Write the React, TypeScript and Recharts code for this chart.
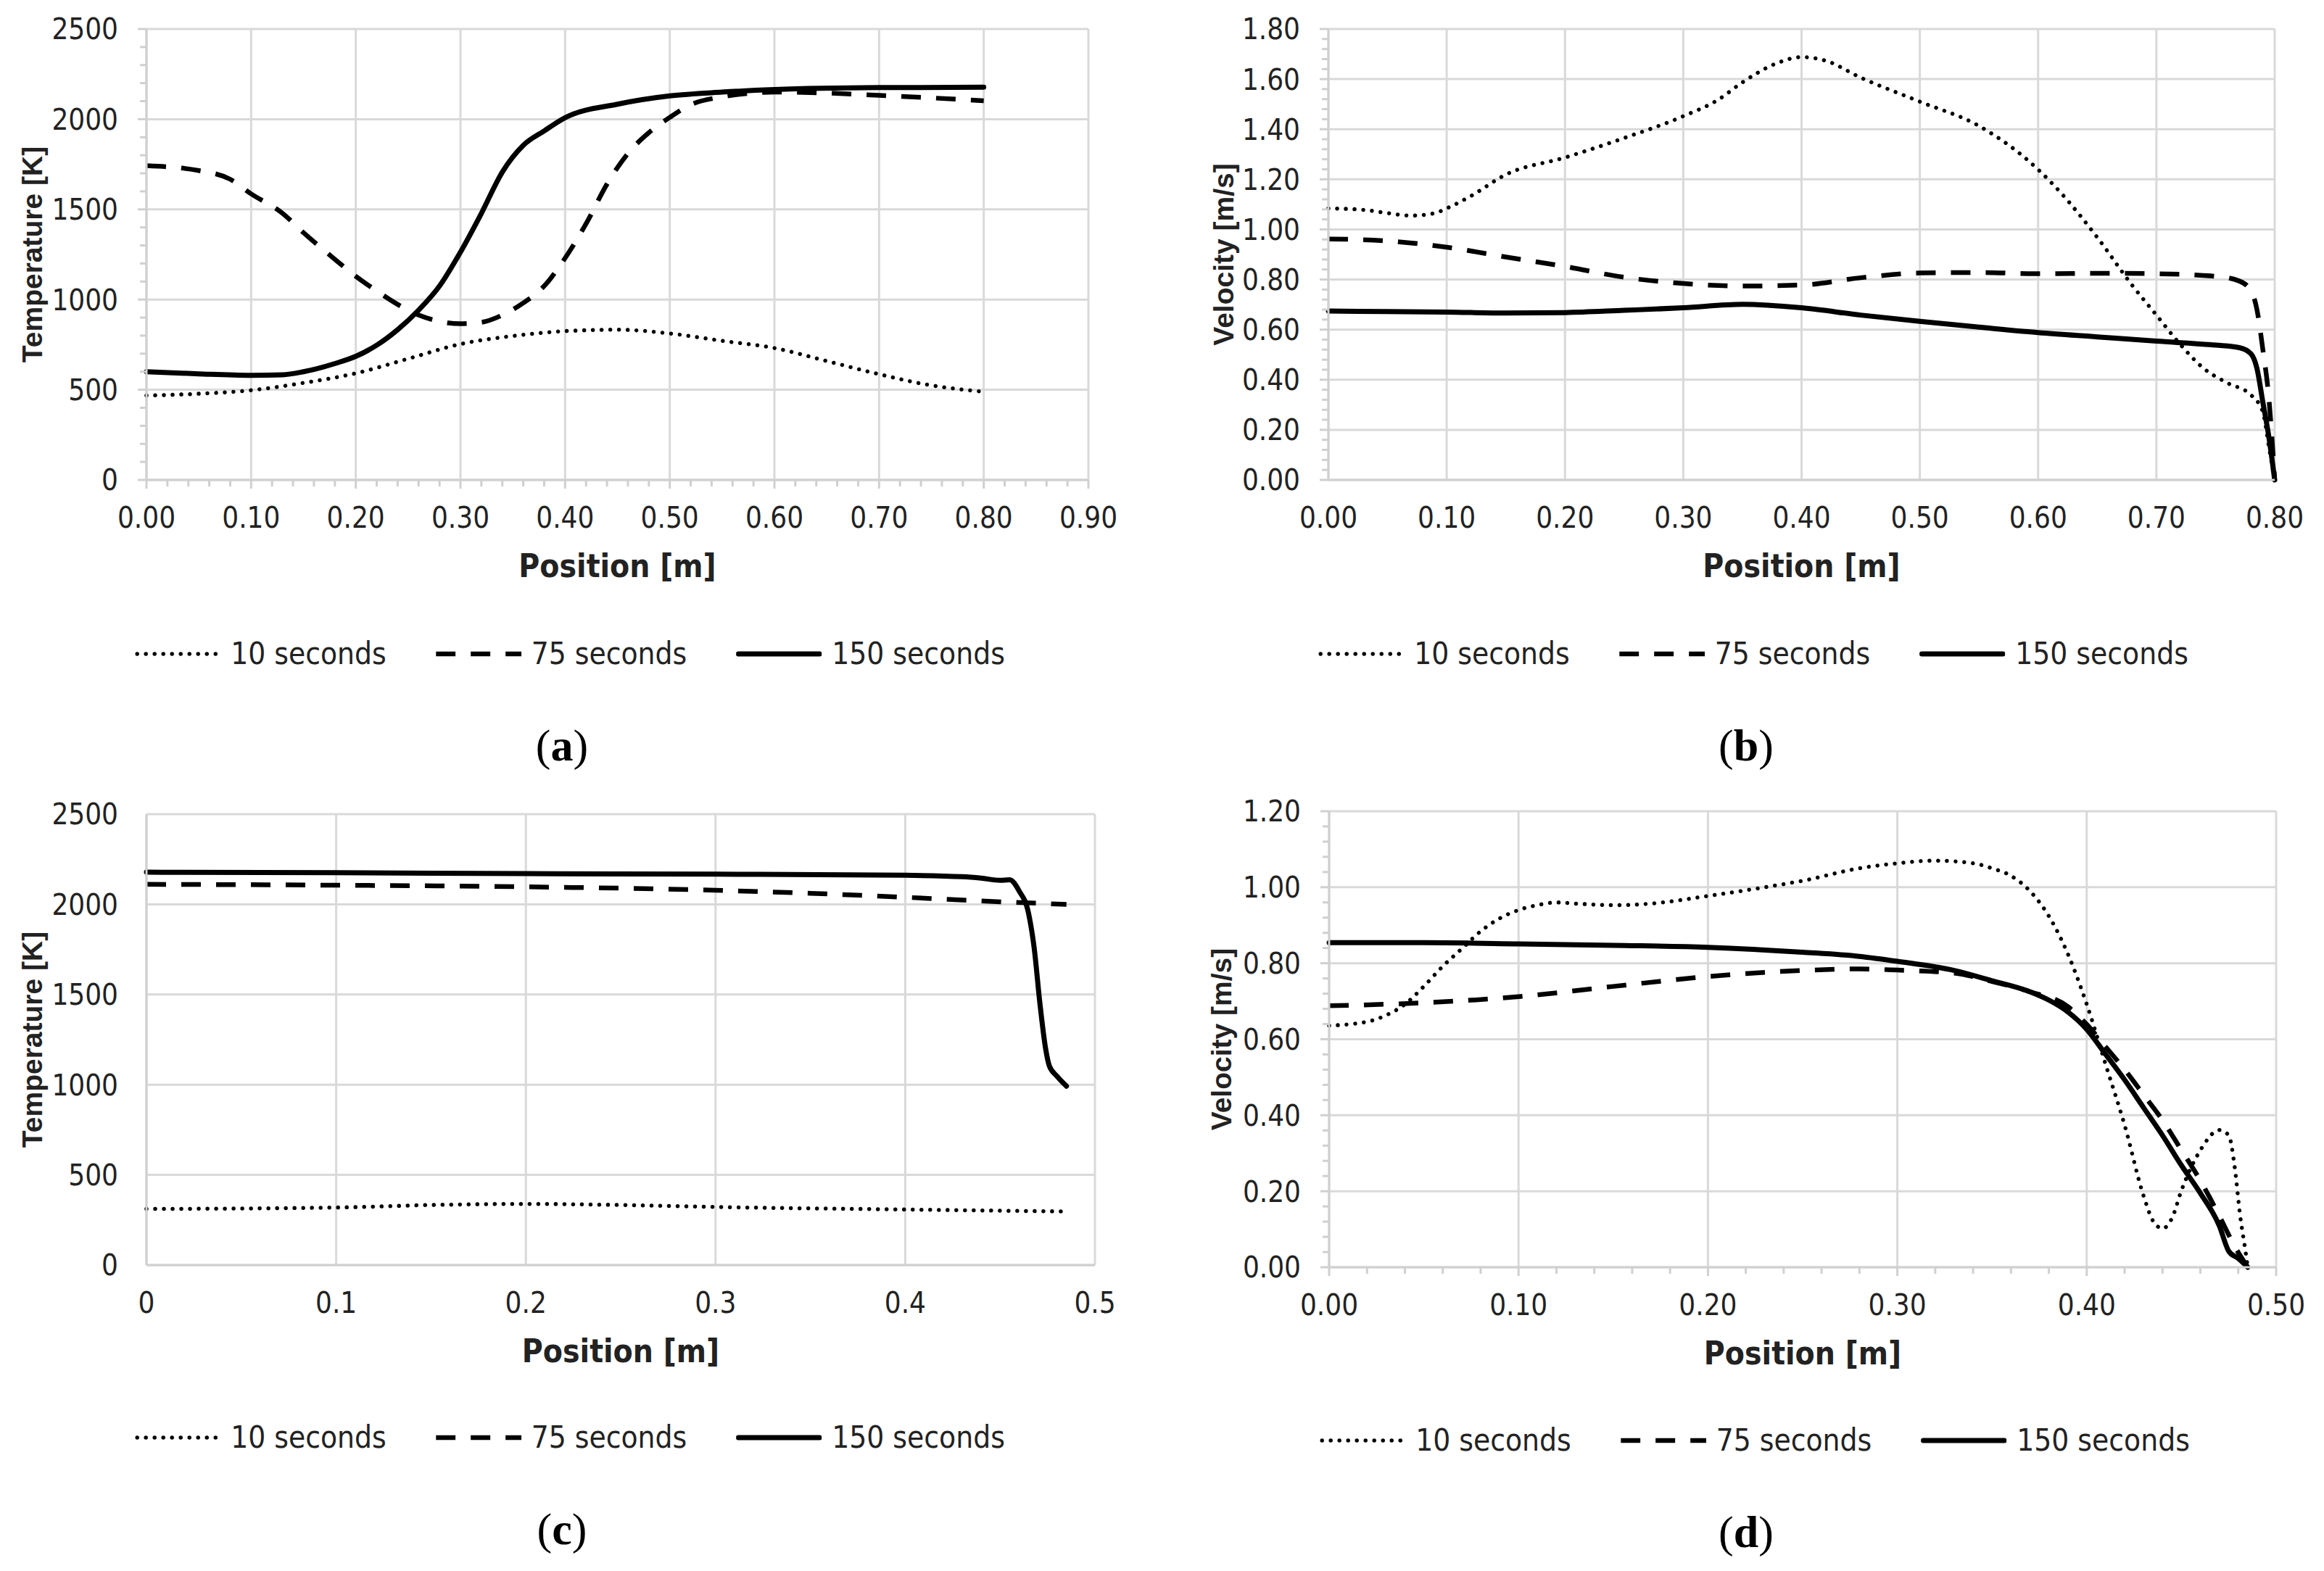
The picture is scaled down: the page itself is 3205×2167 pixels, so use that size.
// Four-panel figure: temperature / velocity profiles at 10, 75 and 150 seconds
import React from 'react';
import { LineChart, Line, XAxis, YAxis, CartesianGrid } from 'recharts';

const SERIES_NAMES = ['10 seconds', '75 seconds', '150 seconds'];

// (a) temperature along the 0.80 m domain
const aPos10 = [0, 0.05, 0.1, 0.15, 0.2, 0.25, 0.3, 0.35, 0.4, 0.45, 0.5, 0.55, 0.6, 0.65, 0.7, 0.75, 0.8];
const aTemp10 = [468, 478, 497, 538, 591, 672, 753, 798, 825, 833, 812, 771, 731, 659, 586, 524, 489];
const aPos75 = [0, 0.05, 0.08, 0.1, 0.13, 0.15, 0.18, 0.2, 0.22, 0.24, 0.26, 0.28, 0.3, 0.32, 0.34, 0.36, 0.38, 0.4, 0.42, 0.44, 0.46, 0.48, 0.5, 0.52, 0.55, 0.58, 0.6, 0.65, 0.7, 0.75, 0.8];
const aTemp75 = [1742, 1715, 1667, 1586, 1478, 1371, 1223, 1129, 1048, 973, 914, 879, 866, 874, 914, 981, 1075, 1230, 1420, 1640, 1810, 1925, 2010, 2080, 2124, 2145, 2150, 2145, 2132, 2118, 2102];
const aPos150 = [0, 0.05, 0.1, 0.13, 0.15, 0.18, 0.2, 0.22, 0.24, 0.26, 0.28, 0.3, 0.32, 0.34, 0.36, 0.38, 0.4, 0.45, 0.5, 0.55, 0.6, 0.7, 0.8];
const aTemp150 = [600, 588, 580, 583, 600, 645, 685, 747, 833, 941, 1075, 1263, 1478, 1707, 1855, 1935, 2008, 2083, 2129, 2150, 2164, 2175, 2177];

// (b) velocity along the 0.80 m domain
const bPos10 = [0, 0.03, 0.05, 0.07, 0.09, 0.1, 0.12, 0.15, 0.2, 0.25, 0.3, 0.33, 0.35, 0.38, 0.4, 0.42, 0.45, 0.5, 0.55, 0.6, 0.62, 0.65, 0.68, 0.7, 0.72, 0.74, 0.76, 0.78, 0.79, 0.795, 0.8];
const bVel10 = [1.084, 1.078, 1.065, 1.055, 1.065, 1.084, 1.132, 1.219, 1.287, 1.365, 1.452, 1.519, 1.587, 1.665, 1.688, 1.674, 1.606, 1.51, 1.413, 1.239, 1.142, 0.968, 0.774, 0.658, 0.542, 0.445, 0.387, 0.339, 0.271, 0.135, 0];
const bPos75 = [0, 0.05, 0.1, 0.15, 0.2, 0.25, 0.3, 0.35, 0.4, 0.45, 0.5, 0.55, 0.6, 0.65, 0.7, 0.75, 0.77, 0.78, 0.785, 0.79, 0.795, 0.8];
const bVel75 = [0.962, 0.954, 0.929, 0.89, 0.852, 0.809, 0.784, 0.774, 0.778, 0.807, 0.826, 0.828, 0.823, 0.825, 0.823, 0.813, 0.794, 0.755, 0.68, 0.52, 0.33, 0];
const bPos150 = [0, 0.05, 0.1, 0.15, 0.2, 0.25, 0.3, 0.35, 0.4, 0.45, 0.5, 0.55, 0.6, 0.65, 0.7, 0.75, 0.77, 0.78, 0.785, 0.79, 0.795, 0.8];
const bVel150 = [0.674, 0.672, 0.67, 0.666, 0.668, 0.677, 0.687, 0.701, 0.687, 0.658, 0.633, 0.61, 0.588, 0.571, 0.554, 0.538, 0.528, 0.503, 0.445, 0.31, 0.174, 0];

// (c) temperature along the 0.485 m domain
const cPos10 = [0, 0.1, 0.15, 0.2, 0.25, 0.3, 0.4, 0.485];
const cTemp10 = [311, 319, 333, 339, 333, 322, 308, 297];
const cPos75 = [0, 0.1, 0.2, 0.3, 0.35, 0.4, 0.45, 0.485];
const cTemp75 = [2111, 2106, 2097, 2078, 2061, 2039, 2014, 2000];
const cPos150 = [0, 0.1, 0.2, 0.3, 0.4, 0.43, 0.44, 0.45, 0.455, 0.46, 0.465, 0.468, 0.471, 0.474, 0.476, 0.48, 0.485];
const cTemp150 = [2178, 2175, 2170, 2167, 2161, 2153, 2145, 2133, 2136, 2075, 1950, 1756, 1450, 1200, 1103, 1047, 992];

// (d) velocity along the 0.485 m domain
const dPos10 = [0, 0.02, 0.03, 0.04, 0.05, 0.06, 0.07, 0.08, 0.09, 0.1, 0.11, 0.12, 0.13, 0.15, 0.17, 0.2, 0.23, 0.25, 0.28, 0.3, 0.32, 0.34, 0.35, 0.36, 0.37, 0.38, 0.39, 0.4, 0.41, 0.42, 0.43, 0.435, 0.44, 0.445, 0.45, 0.46, 0.47, 0.475, 0.478, 0.481, 0.484, 0.485];
const dVel10 = [0.636, 0.646, 0.663, 0.692, 0.739, 0.792, 0.838, 0.884, 0.918, 0.94, 0.953, 0.96, 0.957, 0.953, 0.957, 0.977, 1.0, 1.017, 1.05, 1.063, 1.07, 1.063, 1.05, 1.03, 0.99, 0.924, 0.825, 0.692, 0.533, 0.374, 0.188, 0.122, 0.102, 0.129, 0.202, 0.308, 0.361, 0.347, 0.268, 0.135, 0.036, 0];
const dPos75 = [0, 0.05, 0.1, 0.15, 0.2, 0.25, 0.28, 0.3, 0.33, 0.35, 0.37, 0.39, 0.4, 0.41, 0.42, 0.43, 0.44, 0.45, 0.46, 0.47, 0.478, 0.485];
const dVel75 = [0.688, 0.696, 0.712, 0.739, 0.765, 0.781, 0.785, 0.782, 0.774, 0.752, 0.725, 0.686, 0.639, 0.58, 0.52, 0.454, 0.387, 0.308, 0.228, 0.135, 0.056, 0];
const dPos150 = [0, 0.05, 0.1, 0.15, 0.2, 0.25, 0.28, 0.3, 0.33, 0.35, 0.37, 0.38, 0.39, 0.4, 0.41, 0.42, 0.43, 0.44, 0.45, 0.46, 0.47, 0.475, 0.48, 0.485];
const dVel150 = [0.854, 0.854, 0.851, 0.847, 0.842, 0.829, 0.818, 0.805, 0.781, 0.754, 0.725, 0.703, 0.672, 0.626, 0.56, 0.493, 0.42, 0.347, 0.268, 0.195, 0.109, 0.042, 0.023, 0];

// tick labels
const posTicks09 = [0, 0.1, 0.2, 0.3, 0.4, 0.5, 0.6, 0.7, 0.8, 0.9];
const posTicks08 = [0, 0.1, 0.2, 0.3, 0.4, 0.5, 0.6, 0.7, 0.8];
const posTicks05 = [0, 0.1, 0.2, 0.3, 0.4, 0.5];
const tempTicks = [0, 500, 1000, 1500, 2000, 2500];
const velTicks18 = [0, 0.2, 0.4, 0.6, 0.8, 1.0, 1.2, 1.4, 1.6, 1.8];
const velTicks12 = [0, 0.2, 0.4, 0.6, 0.8, 1.0, 1.2];

const zip = (xs: number[], ys: number[]) => xs.map((x, i) => ({ x, y: ys[i] }));
const steps = (hi: number, step: number) => {
  const out: number[] = [];
  for (let i = 0; i * step <= hi + 1e-9; i++) out.push(+(i * step).toFixed(4));
  return out;
};

const NARROW = "'Liberation Sans Narrow', 'DejaVu Sans Condensed', 'Arial Narrow', sans-serif";
const SANS = "'Liberation Sans', Arial, sans-serif";
const SERIF = "'Liberation Serif', 'Times New Roman', serif";
const INK = '#222';
const GRID = '#d9d9d9';
const AXIS = '#d0d0d0';

const LINE_STYLES = [
  { dash: '0.01 12', width: 5.5, cap: 'round' },
  { dash: '27 21', width: 6.5, cap: 'butt' },
  { dash: undefined, width: 7, cap: 'round' },
];

const isMajor = (list: number[], v: number) => list.some((m) => Math.abs(m - v) < 1e-6);

function XTick({ x, y, payload, majors, marks, fmt }: any) {
  const major = isMajor(majors, payload.value);
  return (
    <g>
      {marks && <line x1={x} x2={x} y1={y} y2={y + (major ? 12 : 9)} stroke={AXIS} strokeWidth={3} />}
      {major && (
        <text x={x} y={y + 66} textAnchor="middle" fill={INK} style={{ fontFamily: NARROW, fontSize: 40 }}>
          {fmt(payload.value)}
        </text>
      )}
    </g>
  );
}

function YTick({ x, y, payload, majors, marks, fmt }: any) {
  const major = isMajor(majors, payload.value);
  return (
    <g>
      {marks && <line x1={x - (major ? 12 : 9)} x2={x} y1={y} y2={y} stroke={AXIS} strokeWidth={3} />}
      {major && (
        <text x={x - 39} y={y} dy="0.36em" textAnchor="end" fill={INK} style={{ fontFamily: NARROW, fontSize: 40 }}>
          {fmt(payload.value)}
        </text>
      )}
    </g>
  );
}

function LegendRow({ cx, cy }: { cx: number; cy: number }) {
  return (
    <div
      style={{
        position: 'absolute', left: cx, top: cy, transform: 'translate(-50%, -50%)',
        display: 'flex', alignItems: 'center', whiteSpace: 'nowrap',
        fontFamily: NARROW, fontSize: 42, lineHeight: 1, color: INK,
      }}
    >
      {SERIES_NAMES.map((name, i) => (
        <div key={name} style={{ display: 'flex', alignItems: 'center', marginLeft: i ? 68 : 0 }}>
          <svg width={118} height={16}>
            <line
              x1={LINE_STYLES[i].cap === 'round' ? 3 : 0} x2={LINE_STYLES[i].cap === 'round' ? 115 : 118}
              y1={8} y2={8} stroke="#000"
              strokeWidth={LINE_STYLES[i].width}
              strokeDasharray={LINE_STYLES[i].dash}
              strokeLinecap={LINE_STYLES[i].cap as any}
            />
          </svg>
          <span style={{ marginLeft: 14 }}>{name}</span>
        </div>
      ))}
    </div>
  );
}

interface PanelProps {
  box: [number, number, number, number];
  plot: [number, number, number, number];
  xDomain: [number, number];
  xTicks: number[];
  xMinor?: number[];
  yDomain: [number, number];
  yTicks: number[];
  yMinor?: number[];
  xFmt: (v: number) => string;
  yFmt: (v: number) => string;
  yTitle: string;
  yTitleDx: number;
  series: { x: number; y: number }[][];
  caption: string;
  captionAt: [number, number];
  legendAt: [number, number];
}

function Panel(p: PanelProps) {
  const [ox, oy, W, H] = p.box;
  const [pl, pt, pr, pb] = p.plot;
  const midX = (pl + pr) / 2 - ox;
  const midY = (pt + pb) / 2 - oy;
  return (
    <>
      <div style={{ position: 'absolute', left: ox, top: oy, width: W, height: H }}>
        <LineChart width={W} height={H} margin={{ top: pt - oy, right: ox + W - pr, left: 0, bottom: 0 }}>
          <CartesianGrid stroke={GRID} strokeWidth={3} horizontalValues={p.yTicks} verticalValues={p.xTicks} />
          <XAxis
            type="number" dataKey="x" domain={p.xDomain} ticks={p.xMinor || p.xTicks} interval={0}
            height={H - (pb - oy)} axisLine={{ stroke: AXIS, strokeWidth: 3 }} tickLine={false}
            tickSize={0} tickMargin={0}
            tick={(tp: any) => <XTick {...tp} majors={p.xTicks} marks={!!p.xMinor} fmt={p.xFmt} />}
            label={{
              content: () => (
                <text x={midX} y={pb - oy + 134} textAnchor="middle" fill={INK}
                  style={{ fontFamily: NARROW, fontSize: 44, fontWeight: 700 }}>
                  Position [m]
                </text>
              ),
            }}
          />
          <YAxis
            type="number" domain={p.yDomain} ticks={p.yMinor || p.yTicks} interval={0}
            width={pl - ox} axisLine={{ stroke: AXIS, strokeWidth: 3 }} tickLine={false}
            tickSize={0} tickMargin={0}
            tick={(tp: any) => <YTick {...tp} majors={p.yTicks} marks={!!p.yMinor} fmt={p.yFmt} />}
            label={{
              content: () => (
                <text x={pl - ox + p.yTitleDx} y={midY} dy="0.35em" textAnchor="middle" fill={INK}
                  transform={`rotate(-90 ${pl - ox + p.yTitleDx} ${midY})`}
                  style={{ fontFamily: SANS, fontSize: 39, fontWeight: 700 }}>
                  {p.yTitle}
                </text>
              ),
            }}
          />
          {p.series.map((s, i) => (
            <Line
              key={SERIES_NAMES[i]} data={s} dataKey="y" name={SERIES_NAMES[i]} type="monotone"
              stroke="#000" strokeWidth={LINE_STYLES[i].width} strokeDasharray={LINE_STYLES[i].dash}
              strokeLinecap={LINE_STYLES[i].cap as any} dot={false} activeDot={false}
              isAnimationActive={false}
            />
          ))}
        </LineChart>
      </div>
      <LegendRow cx={p.legendAt[0]} cy={p.legendAt[1]} />
      <div
        style={{
          position: 'absolute', left: p.captionAt[0], top: p.captionAt[1], transform: 'translate(-50%, -50%)',
          fontFamily: SERIF, fontSize: 62, lineHeight: 1, color: '#000',
        }}
      >
        (<b>{p.caption}</b>)
      </div>
    </>
  );
}

const f2 = (v: number) => v.toFixed(2);
const f0 = (v: number) => String(Math.round(v));
const f1 = (v: number) => (Math.abs(v) < 1e-9 ? '0' : String(+v.toFixed(1)));

export default function App() {
  return (
    <div style={{ position: 'absolute', left: 0, top: 0, width: 3205, height: 2167, background: '#fff', overflow: 'hidden' }}>
      <Panel
        box={[0, 0, 1603, 850]} plot={[202, 40, 1501, 662]}
        xDomain={[0, 0.9]} xTicks={posTicks09} xMinor={steps(0.9, 0.02)}
        yDomain={[0, 2500]} yTicks={tempTicks} yMinor={steps(2500, 100)}
        xFmt={f2} yFmt={f0} yTitle="Temperature [K]" yTitleDx={-158}
        series={[zip(aPos10, aTemp10), zip(aPos75, aTemp75), zip(aPos150, aTemp150)]}
        caption="a" captionAt={[775, 1028]} legendAt={[786, 902]}
      />
      <Panel
        box={[1602, 0, 1603, 850]} plot={[1832, 40, 3137, 662]}
        xDomain={[0, 0.8]} xTicks={posTicks08}
        yDomain={[0, 1.8]} yTicks={velTicks18} yMinor={steps(1.8, 0.04)}
        xFmt={f2} yFmt={f2} yTitle="Velocity [m/s]" yTitleDx={-145}
        series={[zip(bPos10, bVel10), zip(bPos75, bVel75), zip(bPos150, bVel150)]}
        caption="b" captionAt={[2408, 1028]} legendAt={[2418, 902]}
      />
      <Panel
        box={[0, 1080, 1603, 850]} plot={[202, 1123, 1510, 1745]}
        xDomain={[0, 0.5]} xTicks={posTicks05}
        yDomain={[0, 2500]} yTicks={tempTicks}
        xFmt={f1} yFmt={f0} yTitle="Temperature [K]" yTitleDx={-158}
        series={[zip(cPos10, cTemp10), zip(cPos75, cTemp75), zip(cPos150, cTemp150)]}
        caption="c" captionAt={[775, 2109]} legendAt={[786, 1983]}
      />
      <Panel
        box={[1602, 1080, 1603, 850]} plot={[1833, 1119, 3139, 1748]}
        xDomain={[0, 0.5]} xTicks={posTicks05} xMinor={steps(0.5, 0.02)}
        yDomain={[0, 1.2]} yTicks={velTicks12} yMinor={steps(1.2, 0.04)}
        xFmt={f2} yFmt={f2} yTitle="Velocity [m/s]" yTitleDx={-149}
        series={[zip(dPos10, dVel10), zip(dPos75, dVel75), zip(dPos150, dVel150)]}
        caption="d" captionAt={[2408, 2113]} legendAt={[2420, 1987]}
      />
    </div>
  );
}
